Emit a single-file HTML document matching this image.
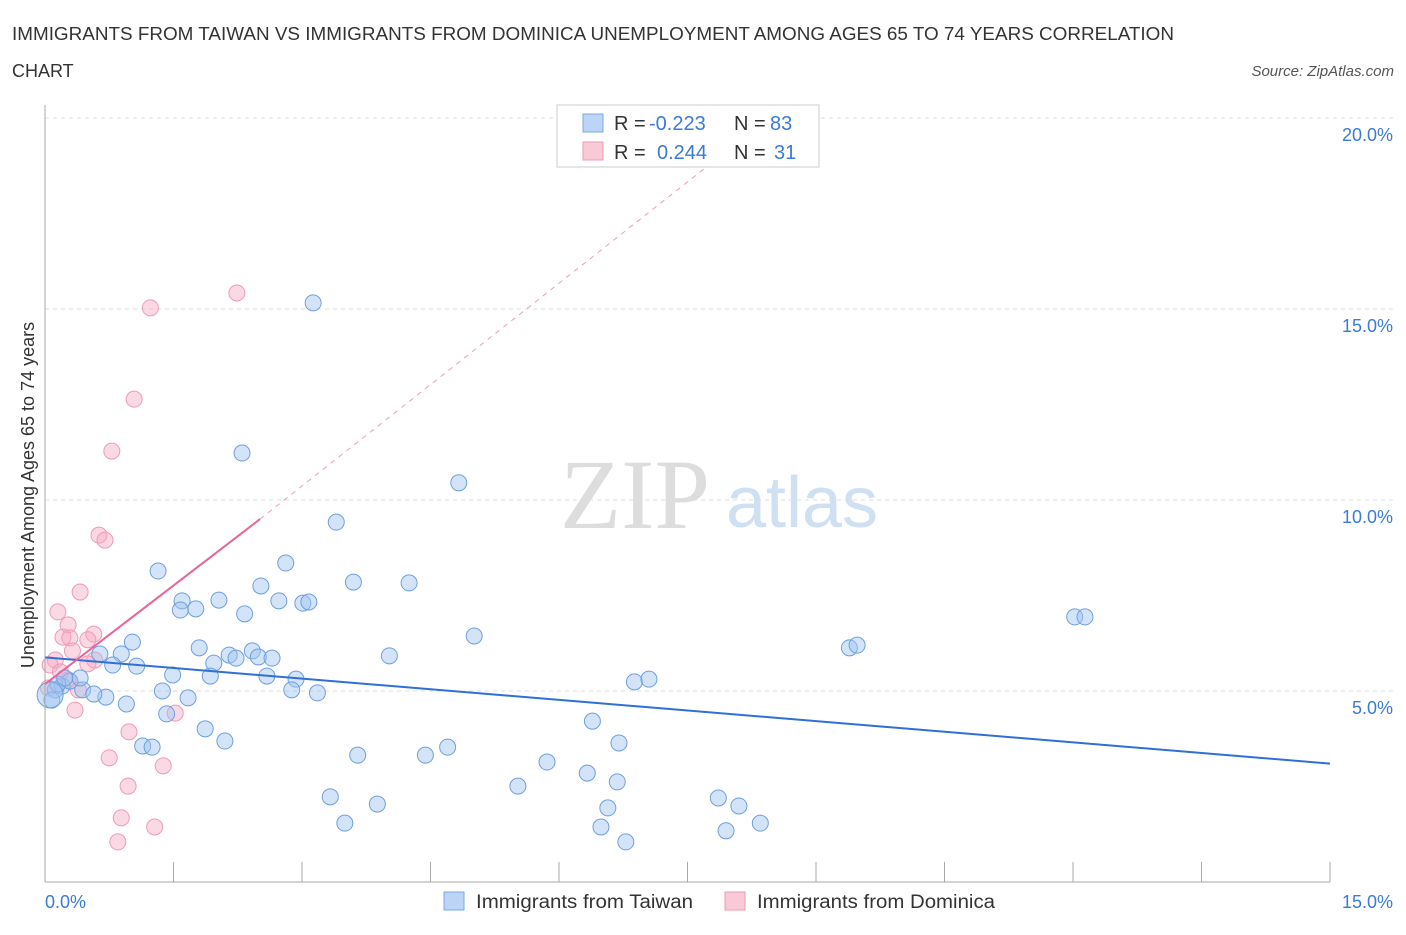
<!DOCTYPE html>
<html><head><meta charset="utf-8"><style>
body{margin:0;background:#fff;font-family:"Liberation Sans",sans-serif}
</style></head><body>
<svg width="1406" height="930" id="chart" font-family="Liberation Sans, sans-serif">
<text x="12" y="40" font-size="18" fill="#333" textLength="1162" lengthAdjust="spacingAndGlyphs">IMMIGRANTS FROM TAIWAN VS IMMIGRANTS FROM DOMINICA UNEMPLOYMENT AMONG AGES 65 TO 74 YEARS CORRELATION</text>
<text x="12" y="77" font-size="18" fill="#333">CHART</text>
<text x="1394" y="76" font-size="15" fill="#555" font-style="italic" text-anchor="end">Source: ZipAtlas.com</text>
<text x="635" y="528" font-size="100" fill="#ddd" style="font-family:'Liberation Serif',serif" text-anchor="middle">ZIP</text>
<text x="802" y="527" font-size="72" fill="#cfe0f3" text-anchor="middle">atlas</text>
<text transform="translate(34,495) rotate(-90)" font-size="18" fill="#333" text-anchor="middle">Unemployment Among Ages 65 to 74 years</text>
<g id="grid"></g><g id="pts"></g><g id="lines"></g>
<line x1="45" y1="105" x2="45" y2="882" stroke="#aaa"/>
<line x1="45" y1="882" x2="1330" y2="882" stroke="#aaa"/>
<text x="45" y="908" font-size="18" fill="#3a7bd5">0.0%</text>
<text x="1393" y="908" font-size="18" fill="#3a7bd5" text-anchor="end">15.0%</text>
<g>
<rect x="557" y="105" width="262" height="62" fill="#fff" stroke="#ccc"/>
<rect x="583" y="114" width="20" height="18" fill="#bcd4f6" stroke="#7aa7e6"/>
<rect x="583" y="142" width="20" height="18" fill="#f9c9d7" stroke="#ef9ab4"/>
<text y="130" font-size="20" fill="#333"><tspan x="614">R =</tspan><tspan x="649" fill="#3a7bd5">-0.223</tspan><tspan x="734">N =</tspan><tspan x="770" fill="#3a7bd5">83</tspan></text>
<text y="159" font-size="20" fill="#333"><tspan x="614">R =</tspan><tspan x="657" fill="#3a7bd5">0.244</tspan><tspan x="734">N =</tspan><tspan x="774" fill="#3a7bd5">31</tspan></text>
</g>
<g>
<rect x="444" y="892" width="20" height="18" fill="#bcd4f6" stroke="#7aa7e6"/>
<text x="476" y="908" font-size="19" fill="#333" textLength="217" lengthAdjust="spacingAndGlyphs">Immigrants from Taiwan</text>
<rect x="725" y="892" width="20" height="18" fill="#f9c9d7" stroke="#ef9ab4"/>
<text x="757" y="908" font-size="19" fill="#333" textLength="238" lengthAdjust="spacingAndGlyphs">Immigrants from Dominica</text>
</g>
</svg>
<script>
const yTicks=[5,10,15,20];
const xTickCount=10;
const taiwanPx=[[313,303],[242,453],[459,483],[336,522],[158,571],[286,563],[261,586],[353,582],[409,583],[182,601],[180,610],[196,609],[219,600],[245,614],[279,601],[303,603],[309,602],[474,636],[132,642],[199,648],[121,654],[100,654],[113,665],[137,666],[229,655],[236,658],[252,651],[258,657],[272,658],[214,663],[210,676],[173,675],[267,676],[296,679],[389,656],[292,690],[317,693],[162,691],[188,698],[106,697],[126,704],[83,690],[94,694],[62,686],[55,690],[70,681],[80,678],[52,700],[167,714],[205,729],[225,741],[143,746],[152,747],[358,755],[425,755],[448,747],[592,721],[619,743],[547,762],[587,773],[617,782],[518,786],[330,797],[377,804],[608,808],[601,827],[626,842],[345,823],[634,682],[649,679],[849,648],[857,645],[1075,617],[1085,617],[718,798],[739,806],[726,831],[760,823],[58,684],[65,678]];
const dominicaPx=[[150,308],[237,293],[134,399],[112,451],[99,535],[105,540],[80,592],[58,612],[68,625],[94,634],[63,637],[70,638],[88,640],[72,651],[55,660],[50,665],[95,660],[88,664],[60,672],[68,680],[78,690],[75,710],[175,713],[129,732],[109,758],[163,766],[128,786],[121,818],[155,827],[118,842],[48,688]];
const taiwanX=taiwanPx.map(p=>+((p[0]-45)/85.667).toFixed(2));
const taiwanY=taiwanPx.map(p=>+((882-p[1])/38.2).toFixed(2));
const dominicaX=dominicaPx.map(p=>+((p[0]-45)/85.667).toFixed(2));
const dominicaY=dominicaPx.map(p=>+((882-p[1])/38.2).toFixed(2));
const taiwanTrend=[[0,5.88],[15,3.1]];
const dominicaTrend=[[0,5.18],[2.51,9.5]];
const dominicaDash=[[2.51,9.5],[8.05,19.3]];
const sx=v=>45+v*85.667, sy=v=>882-v*38.2;
const NS='http://www.w3.org/2000/svg';
function mk(t,a,p){const e=document.createElementNS(NS,t);for(const k in a)e.setAttribute(k,a[k]);p.appendChild(e);return e;}
const g=document.getElementById('grid');
yTicks.forEach(v=>{
 const l=mk('line',{x1:45,x2:1395,y1:sy(v),y2:sy(v),stroke:'#ddd','stroke-dasharray':'4,4'},g);
 
 
 const t=mk('text',{x:1393,y:sy(v)+23,'font-size':18,fill:'#3a7bd5','text-anchor':'end'},g);
 t.textContent=v.toFixed(1)+'%';
 
 
});
for(let i=1;i<=xTickCount;i++){
 const x=sx(i*1.5);
 const l=mk('line',{x1:x,x2:x,y1:862,y2:882,stroke:'#aaa'},g);
 
 
}
const pg=document.getElementById('pts');
dominicaX.forEach((x,i)=>{
 const c=mk('circle',{cx:sx(x),cy:sy(dominicaY[i]),r:8,fill:'rgba(246,170,195,0.45)',stroke:'#ef9ab4','stroke-width':1},pg);
 
 
});
taiwanX.forEach((x,i)=>{
 const c=mk('circle',{cx:sx(x),cy:sy(taiwanY[i]),r:8,fill:'rgba(160,196,240,0.45)',stroke:'#6d9fe0','stroke-width':1},pg);
 
 
});
const big=mk('circle',{cx:sx(0.06),cy:sy(4.9),r:13,fill:'rgba(160,196,240,0.5)',stroke:'#6d9fe0'},pg);


const lg=document.getElementById('lines');
function ln(d,st,w,da,name){const l=mk('line',{x1:sx(d[0][0]),y1:sy(d[0][1]),x2:sx(d[1][0]),y2:sy(d[1][1]),stroke:st,'stroke-width':w},lg);if(da)l.setAttribute('stroke-dasharray',da);
 
 }
ln(taiwanTrend,'#2f6fd6',2,null,'taiwan-trend-line');
ln(dominicaTrend,'#e8649a',2,null,'dominica-trend-line');
ln(dominicaDash,'#e8a0bb',1,'5,5','dominica-trend-extension');
</script>
</body></html>
